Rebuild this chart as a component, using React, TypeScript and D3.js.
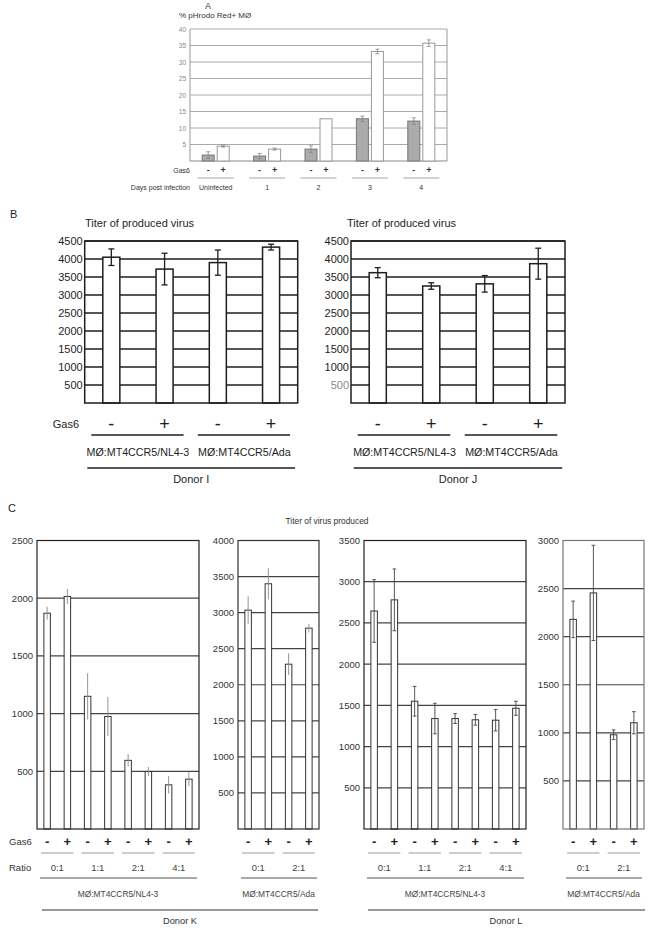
import React from 'react'
import * as d3 from 'd3'

// ---- Panel A: % pHrodo Red+ MØ by days post infection ----
const daysLabels = ['Uninfected', '1', '2', '3', '4']
const phrodoMinus = [1.8, 1.5, 3.6, 12.8, 12.1]
const phrodoMinusErr = [1.0, 0.8, 1.0, 0.8, 1.0]
const phrodoPlus = [4.5, 3.6, 12.8, 33.2, 35.7]
const phrodoPlusErr = [0.3, 0.3, 0, 0.7, 1.0]
const phrodoTicks = [5, 10, 15, 20, 25, 30, 35, 40]

// ---- Panel B: titer of produced virus ----
const gas6Signs = ['-', '+']
const bGroups = ['MØ:MT4CCR5/NL4-3', 'MØ:MT4CCR5/Ada']
const bTicks = [500, 1000, 1500, 2000, 2500, 3000, 3500, 4000, 4500]
const donorITiter = [4050, 3720, 3900, 4330]
const donorIErr = [230, 440, 350, 80]
const donorJTiter = [3620, 3250, 3310, 3870]
const donorJErr = [140, 90, 230, 430]

// ---- Panel C: titer of virus produced vs ratio ----
const ratiosNl43 = ['0:1', '1:1', '2:1', '4:1']
const ratiosAda = ['0:1', '2:1']
const donorKNl43 = [1870, 2015, 1150, 975, 595, 498, 383, 432]
const donorKNl43Err = [55, 65, 200, 170, 55, 40, 75, 60]
const donorKAda = [3035, 3400, 2285, 2785]
const donorKAdaErr = [190, 215, 150, 60]
const donorLNl43 = [2645, 2780, 1550, 1340, 1340, 1325, 1320, 1465]
const donorLNl43Err = [380, 375, 180, 185, 60, 65, 130, 85]
const donorLAda = [2180, 2455, 980, 1105]
const donorLAdaErr = [190, 495, 50, 115]
const cAxisMax = [2500, 4000, 3500, 3000]

const FONT = '"Liberation Sans", Arial, sans-serif'

const PanelA = () => {
  const x = d3.scaleBand<string>().domain(daysLabels).range([190, 447])
  const sub = d3.scaleBand<string>().domain(gas6Signs).range([-13.5, 13.5]).paddingInner(0.2)
  const y = d3.scaleLinear().domain([0, 40]).range([161, 29])
  const bw = sub.bandwidth()
  const cx = (g: string, s: string) => (x(g) as number) + x.bandwidth() / 2 + (sub(s) as number) + bw / 2

  return (
    <g fontFamily={FONT}>
      <text x={205} y={9} fontSize={9} fill="#333">A</text>
      <text x={179} y={18} fontSize={8} fill="#333">% pHrodo  Red+ MØ</text>
      {phrodoTicks.map(t => (
        <g key={t}>
          <line x1={190} x2={447} y1={y(t)} y2={y(t)} stroke="#aaa" strokeWidth={1} />
          <text x={186} y={y(t)} fontSize={6.5} fill="#888" textAnchor="end" dominantBaseline="central">{t}</text>
        </g>
      ))}
      <line x1={190} x2={190} y1={y(40)} y2={y(0)} stroke="#999" />
      <line x1={447} x2={447} y1={y(40)} y2={y(0)} stroke="#999" />
      <line x1={190} x2={447} y1={y(0)} y2={y(0)} stroke="#888" />
      {daysLabels.map((g, i) => {
        const items = [
          { s: '-', v: phrodoMinus[i], e: phrodoMinusErr[i], fill: '#ababab', stroke: '#777' },
          { s: '+', v: phrodoPlus[i], e: phrodoPlusErr[i], fill: '#fff', stroke: '#999' },
        ]
        return (
          <g key={g}>
            {items.map(it => {
              const c = cx(g, it.s)
              return (
                <g key={it.s}>
                  <rect x={c - bw / 2} y={y(it.v)} width={bw} height={y(0) - y(it.v)} fill={it.fill} stroke={it.stroke} strokeWidth={1} />
                  {it.e > 0 && (
                    <g stroke="#888" strokeWidth={0.8}>
                      <line x1={c} x2={c} y1={y(it.v + it.e)} y2={y(it.v - it.e)} />
                      <line x1={c - 2} x2={c + 2} y1={y(it.v + it.e)} y2={y(it.v + it.e)} />
                      <line x1={c - 2} x2={c + 2} y1={y(it.v - it.e)} y2={y(it.v - it.e)} />
                    </g>
                  )}
                  <text x={c} y={170} fontSize={9} fontWeight="bold" fill="#333" textAnchor="middle" dominantBaseline="central">{it.s}</text>
                </g>
              )
            })}
            <line x1={(x(g) as number) + x.bandwidth() / 2 - 18} x2={(x(g) as number) + x.bandwidth() / 2 + 18} y1={178} y2={178} stroke="#c4c4c4" strokeWidth={1.5} />
            <text x={(x(g) as number) + x.bandwidth() / 2} y={187} fontSize={7} fill="#333" textAnchor="middle" dominantBaseline="central">{g}</text>
          </g>
        )
      })}
      <text x={190} y={170} fontSize={7} fill="#333" textAnchor="end" dominantBaseline="central">Gas6</text>
      <text x={190} y={187} fontSize={7} fill="#333" textAnchor="end" dominantBaseline="central">Days post infection</text>
    </g>
  )
}

const PanelB = ({ left, right, values, errs, titleX, donor, showGas6, grayLowTick }:
  { left: number; right: number; values: number[]; errs: number[]; titleX: number; donor: string; showGas6: boolean; grayLowTick: boolean }) => {
  const y = d3.scaleLinear().domain([0, 4500]).range([403, 241])
  const x = d3.scaleBand<number>().domain(d3.range(values.length)).range([left, right]).paddingInner(0.68).paddingOuter(0.34)
  const c = (i: number) => (x(i) as number) + x.bandwidth() / 2
  const ink = '#1e1e1e'
  return (
    <g fontFamily={FONT}>
      <text x={titleX} y={223} fontSize={11} fill={ink} dominantBaseline="central">Titer of produced virus</text>
      {bTicks.map(t => (
        <g key={t}>
          <line x1={left} x2={right} y1={y(t)} y2={y(t)} stroke={ink} strokeWidth={1.5} />
          <text x={left - 2} y={y(t)} fontSize={11} fill={grayLowTick && t === 500 ? '#888' : ink} textAnchor="end" dominantBaseline="central">{t}</text>
        </g>
      ))}
      {values.map((v, i) => (
        <g key={i}>
          <rect x={x(i)} y={y(v)} width={x.bandwidth()} height={y(0) - y(v)} fill="#fff" stroke={ink} strokeWidth={1.5} />
          <g stroke={ink} strokeWidth={1.3}>
            <line x1={c(i)} x2={c(i)} y1={y(v + errs[i])} y2={y(v - errs[i])} />
            <line x1={c(i) - 3} x2={c(i) + 3} y1={y(v + errs[i])} y2={y(v + errs[i])} />
            <line x1={c(i) - 3} x2={c(i) + 3} y1={y(v - errs[i])} y2={y(v - errs[i])} />
          </g>
          <text x={c(i)} y={424} fontSize={18} fill={ink} textAnchor="middle" dominantBaseline="central">{gas6Signs[i % 2]}</text>
        </g>
      ))}
      <rect x={left} y={y(4500)} width={right - left} height={y(0) - y(4500)} fill="none" stroke={ink} strokeWidth={1.5} />
      {showGas6 && <text x={79} y={424} fontSize={11} fill={ink} textAnchor="end" dominantBaseline="central">Gas6</text>}
      {bGroups.map((g, gi) => (
        <g key={g}>
          <line x1={c(gi * 2) - 20} x2={c(gi * 2 + 1) + 19} y1={435} y2={435} stroke={ink} strokeWidth={1.5} />
          <text x={(c(gi * 2) + c(gi * 2 + 1)) / 2} y={452} fontSize={10.7} fill={ink} textAnchor="middle" dominantBaseline="central">{g}</text>
        </g>
      ))}
      <line x1={c(0) - 24} x2={c(values.length - 1) + 24} y1={468} y2={468} stroke={ink} strokeWidth={1.5} />
      <text x={(left + right) / 2} y={479} fontSize={11} fill={ink} textAnchor="middle" dominantBaseline="central">{donor}</text>
    </g>
  )
}

const CPlot = ({ left, right, yMax, values, errs, ratios, group, caps, frame, labels }:
  { left: number; right: number; yMax: number; values: number[]; errs: number[]; ratios: string[]; group: string; caps: boolean; frame: string; labels: boolean }) => {
  const y = d3.scaleLinear().domain([0, yMax]).range([829, 540.5])
  const x = d3.scaleBand<number>().domain(d3.range(values.length)).range([left, right]).paddingInner(0.68).paddingOuter(0.34)
  const c = (i: number) => (x(i) as number) + x.bandwidth() / 2
  const ticks = d3.range(500, yMax + 1, 500)
  return (
    <g fontFamily={FONT}>
      {ticks.map(t => (
        <g key={t}>
          {t < yMax && <line x1={left} x2={right} y1={y(t)} y2={y(t)} stroke="#444" strokeWidth={1.2} />}
          <text x={left - 4} y={y(t)} fontSize={9.5} fill="#333" textAnchor="end" dominantBaseline="central">{t}</text>
        </g>
      ))}
      {values.map((v, i) => (
        <g key={i}>
          <rect x={x(i)} y={y(v)} width={x.bandwidth()} height={y(0) - y(v)} fill="#fff" stroke="#333" strokeWidth={1} />
          <g stroke={caps ? '#444' : '#888'} strokeWidth={0.9}>
            <line x1={c(i)} x2={c(i)} y1={y(v + errs[i])} y2={y(v - errs[i])} />
            {caps && <line x1={c(i) - 1.8} x2={c(i) + 1.8} y1={y(v + errs[i])} y2={y(v + errs[i])} />}
            {caps && <line x1={c(i) - 1.8} x2={c(i) + 1.8} y1={y(v - errs[i])} y2={y(v - errs[i])} />}
          </g>
          <text x={c(i)} y={841} fontSize={13} fontWeight="bold" fill="#222" textAnchor="middle" dominantBaseline="central">{gas6Signs[i % 2]}</text>
        </g>
      ))}
      <rect x={left} y={y(yMax)} width={right - left} height={y(0) - y(yMax)} fill="none" stroke={frame} strokeWidth={1.2} />
      {labels && (
        <g fontSize={9.5} fill="#333">
          <text x={9} y={841} dominantBaseline="central">Gas6</text>
          <text x={9} y={867} dominantBaseline="central">Ratio</text>
        </g>
      )}
      {ratios.map((r, ri) => (
        <g key={r}>
          <line x1={c(ri * 2) - 6} x2={c(ri * 2 + 1) + 6} y1={853} y2={853} stroke="#999" strokeWidth={1} />
          <text x={(c(ri * 2) + c(ri * 2 + 1)) / 2} y={867} fontSize={9.5} fill="#444" textAnchor="middle" dominantBaseline="central">{r}</text>
        </g>
      ))}
      <line x1={left + 3} x2={right - 2} y1={878} y2={878} stroke="#555" strokeWidth={1} />
      <text x={(left + right) / 2} y={894} fontSize={8.4} fill="#444" textAnchor="middle" dominantBaseline="central">{group}</text>
    </g>
  )
}

export default function App() {
  return (
    <svg width={654} height={933} style={{ position: 'absolute', left: 0, top: 0, background: '#fff' }}>
      <PanelA />

      <text x={10} y={214} fontSize={11} fill="#222" fontFamily={FONT} dominantBaseline="central">B</text>
      <PanelB left={84.7} right={297.7} values={donorITiter} errs={donorIErr} titleX={85} donor="Donor I" showGas6 grayLowTick={false} />
      <PanelB left={351} right={565} values={donorJTiter} errs={donorJErr} titleX={347} donor="Donor J" showGas6={false} grayLowTick />

      <g fontFamily={FONT}>
        <text x={8} y={508} fontSize={11} fill="#222" dominantBaseline="central">C</text>
        <text x={327} y={521} fontSize={8.4} fill="#333" textAnchor="middle" dominantBaseline="central">Titer of virus produced</text>
      </g>
      <CPlot left={37} right={199} yMax={cAxisMax[0]} values={donorKNl43} errs={donorKNl43Err} ratios={ratiosNl43} group={bGroups[0]} caps={false} frame="#222" labels />
      <CPlot left={238} right={319} yMax={cAxisMax[1]} values={donorKAda} errs={donorKAdaErr} ratios={ratiosAda} group={bGroups[1]} caps={false} frame="#333" labels={false} />
      <CPlot left={364} right={526} yMax={cAxisMax[2]} values={donorLNl43} errs={donorLNl43Err} ratios={ratiosNl43} group={bGroups[0]} caps frame="#222" labels={false} />
      <CPlot left={563} right={644} yMax={cAxisMax[3]} values={donorLAda} errs={donorLAdaErr} ratios={ratiosAda} group={bGroups[1]} caps frame="#777" labels={false} />

      <g fontFamily={FONT}>
        <line x1={42} x2={318} y1={910} y2={910} stroke="#333" strokeWidth={1} />
        <text x={180} y={921} fontSize={9.3} fill="#333" textAnchor="middle" dominantBaseline="central">Donor K</text>
        <line x1={368} x2={645} y1={910} y2={910} stroke="#333" strokeWidth={1} />
        <text x={506} y={921} fontSize={9.3} fill="#333" textAnchor="middle" dominantBaseline="central">Donor L</text>
      </g>
    </svg>
  )
}
